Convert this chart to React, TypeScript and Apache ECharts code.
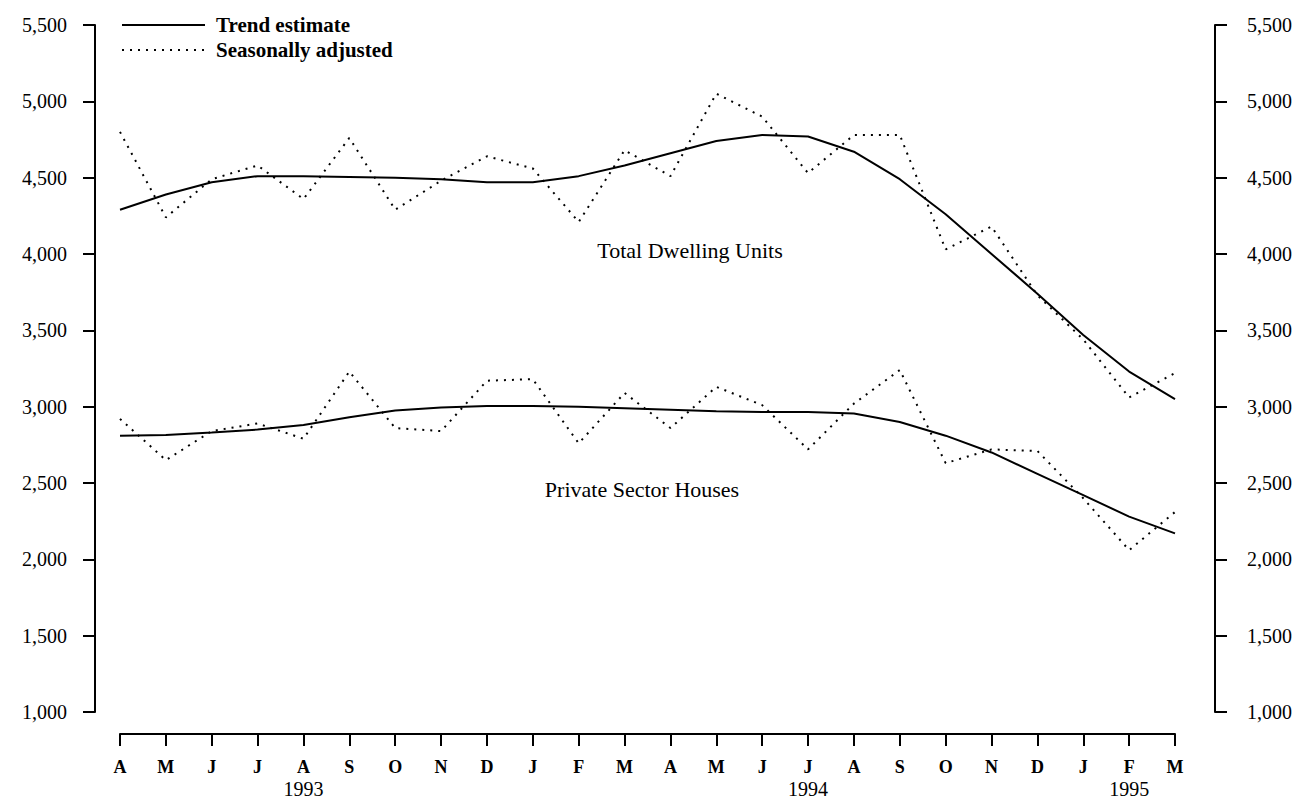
import React, { useEffect, useRef } from "react";
import * as echarts from "echarts";

const months = ["A","M","J","J","A","S","O","N","D","J","F","M","A","M","J","J","A","S","O","N","D","J","F","M"];
const yearLabels: Record<number, string> = { 4: "1993", 15: "1994", 22: "1995" };

const totalTrend = [4290,4390,4470,4510,4510,4505,4500,4490,4470,4470,4510,4580,4660,4740,4780,4770,4670,4490,4260,4000,3740,3470,3230,3050];
const totalSA = [4800,4240,4490,4580,4360,4760,4290,4480,4640,4560,4210,4680,4510,5050,4900,4530,4780,4780,4030,4180,3730,3440,3060,3220];
const privateTrend = [2810,2815,2830,2850,2880,2930,2975,2995,3005,3005,3000,2990,2980,2970,2965,2965,2955,2900,2810,2700,2560,2420,2280,2170];
const privateSA = [2920,2650,2840,2890,2790,3230,2860,2840,3170,3180,2760,3090,2860,3130,3010,2720,3020,3240,2630,2720,2710,2400,2060,2310];

const yTicks = { min: 1000, max: 5500, interval: 500 };
const FONT = "Liberation Serif";

export default function App() {
  const ref = useRef<HTMLDivElement>(null);
  useEffect(() => {
    if (!ref.current) return;
    const chart = echarts.init(ref.current, undefined, { renderer: "svg" });
    const fmt = (v: number) => v.toLocaleString("en-US");
    const yAxisBase = {
      type: "value",
      min: yTicks.min,
      max: yTicks.max,
      interval: yTicks.interval,
      splitLine: { show: false },
      axisLine: { show: true, lineStyle: { color: "#000", width: 2 } },
      axisTick: { show: true, length: 12, lineStyle: { color: "#000", width: 2 } },
      axisLabel: { color: "#000", fontFamily: FONT, fontSize: 20, formatter: fmt },
    };
    const solid = { color: "#000", width: 2 };
    const dotted = { color: "#000", width: 2, type: [2, 6] };
    chart.setOption({
      animation: false,
      backgroundColor: "#fff",
      grid: { left: 120, right: 125, top: 25, bottom: 97 },
      xAxis: {
        type: "category",
        data: months,
        boundaryGap: false,
        offset: 22,
        axisLine: { lineStyle: { color: "#000", width: 2 } },
        axisTick: { length: 12, lineStyle: { color: "#000", width: 2 }, interval: 0 },
        axisLabel: {
          interval: 0,
          margin: 22,
          color: "#000",
          fontFamily: FONT,
          formatter: (v: string, i: number) =>
            yearLabels[i] ? `{m|${v}}\n{y|${yearLabels[i]}}` : `{m|${v}}`,
          rich: {
            m: { fontFamily: FONT, fontSize: 18, fontWeight: "bold", color: "#000", lineHeight: 22 },
            y: { fontFamily: FONT, fontSize: 20, color: "#000", lineHeight: 22 },
          },
        },
      },
      yAxis: [
        { ...yAxisBase, position: "left", offset: 25, axisLabel: { ...yAxisBase.axisLabel, margin: 28 } },
        { ...yAxisBase, position: "right", offset: 40, axisLabel: { ...yAxisBase.axisLabel, margin: 32 } },
      ],
      series: [
        { name: "Total Dwelling Units trend", type: "line", data: totalTrend, symbol: "none", lineStyle: solid },
        { name: "Total Dwelling Units seasonally adjusted", type: "line", data: totalSA, symbol: "none", lineStyle: dotted },
        { name: "Private Sector Houses trend", type: "line", data: privateTrend, symbol: "none", lineStyle: solid },
        { name: "Private Sector Houses seasonally adjusted", type: "line", data: privateSA, symbol: "none", lineStyle: dotted },
      ],
      graphic: [
        { type: "line", shape: { x1: 122, y1: 25, x2: 205, y2: 25 }, style: { stroke: "#000", lineWidth: 2 } },
        { type: "text", x: 216, y: 25, style: { text: "Trend estimate", fill: "#000", font: `bold 21px "${FONT}"`, verticalAlign: "middle" } },
        { type: "line", shape: { x1: 122, y1: 50, x2: 205, y2: 50 }, style: { stroke: "#000", lineWidth: 2, lineDash: [2, 6] } },
        { type: "text", x: 216, y: 50, style: { text: "Seasonally adjusted", fill: "#000", font: `bold 21px "${FONT}"`, verticalAlign: "middle" } },
        { type: "text", x: 690, y: 250, style: { text: "Total Dwelling Units", fill: "#000", font: `22px "${FONT}"`, align: "center", verticalAlign: "middle" } },
        { type: "text", x: 642, y: 489, style: { text: "Private Sector Houses", fill: "#000", font: `22px "${FONT}"`, align: "center", verticalAlign: "middle" } },
      ],
    });
    return () => chart.dispose();
  }, []);
  return <div ref={ref} style={{ position: "fixed", left: 0, top: 0, width: 1300, height: 809 }} />;
}
